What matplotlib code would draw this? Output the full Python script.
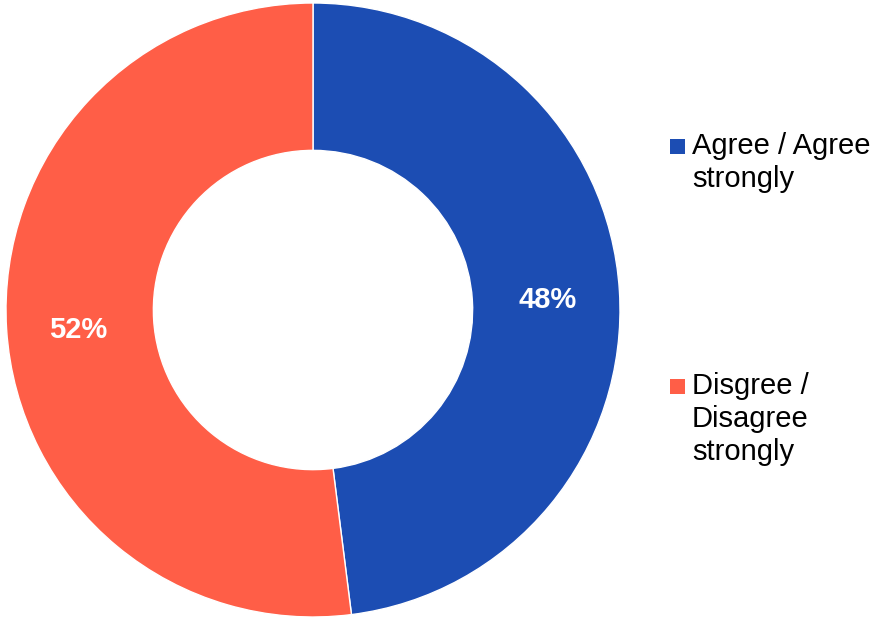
import matplotlib
matplotlib.use("Agg")
import matplotlib.pyplot as plt
from matplotlib.patches import Rectangle

labels = ["Agree / Agree\nstrongly", "Disgree /\nDisagree\nstrongly"]
values = [48, 52]
colors = ["#1C4DB3", "#FF5E47"]

plt.rcParams['font.family'] = ['Liberation Sans', 'DejaVu Sans']

fig = plt.figure(figsize=(8.71, 6.2), dpi=100)
W, H = 871, 620
cx, cy, r = 313, 310, 307
ax = fig.add_axes([(cx - r) / W, (H - cy - r) / H, 2 * r / W, 2 * r / H])

wedges, texts, autotexts = ax.pie(
    values, colors=colors, startangle=90, counterclock=False, radius=1,
    autopct=lambda p: f"{p:.0f}%", pctdistance=0.765,
    wedgeprops=dict(width=0.48, edgecolor="white", linewidth=1),
    textprops=dict(color="white", fontsize=21, fontweight="bold"))
for t in autotexts:
    x, y = t.get_position()
    t.set_position((x, y - 5 / r))
ax.set_xlim(-1, 1)
ax.set_ylim(-1, 1)
ax.set_aspect("equal")
ax.axis("off")

# legend: square beside the first line of each entry
entry_tops = [135, 375]
for lab, col, top in zip(labels, colors, entry_tops):
    sq = 15
    fig.patches.append(Rectangle((670 / W, (H - top - 4 - sq) / H), sq / W, sq / H,
                                 transform=fig.transFigure, facecolor=col,
                                 edgecolor="none"))
    fig.text(692 / W, (H - top + 3) / H, lab, fontsize=21, va="top", ha="left",
             color="black", linespacing=1.22)

fig.savefig("out.png", dpi=100)
